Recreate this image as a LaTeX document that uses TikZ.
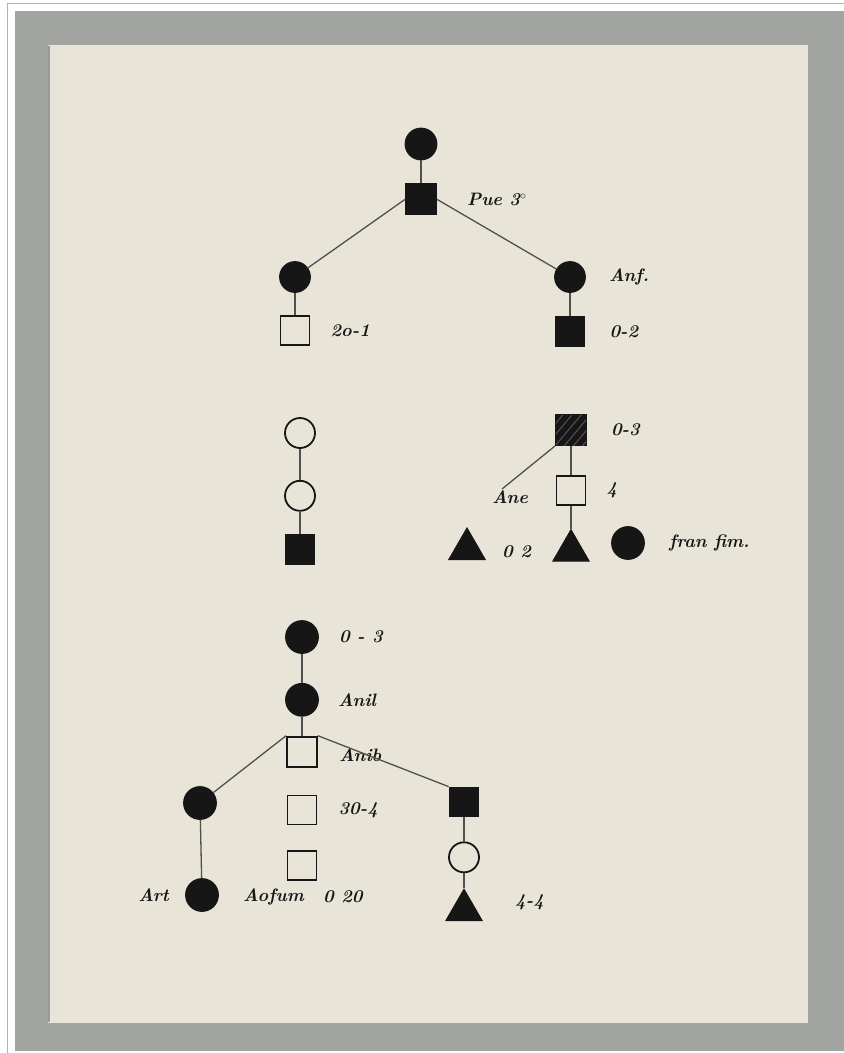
\documentclass[tikz,border=0pt]{standalone}
\usetikzlibrary{positioning,shapes.geometric,patterns.meta}
\definecolor{paper}{RGB}{232,228,215}
\definecolor{mat}{RGB}{162,164,161}
\definecolor{ink}{RGB}{22,22,22}
\definecolor{rule}{RGB}{80,80,78}
\tikzset{
  circ/.style={circle, draw=ink, line width=1.8pt, minimum size=30pt, inner sep=0pt},
  dot/.style={circ, fill=ink},
  box/.style={rectangle, draw=ink, line width=1.8pt, minimum size=29pt, inner sep=0pt},
  sqfill/.style={box, fill=ink},
  tri/.style={regular polygon, regular polygon sides=3, fill=ink, draw=ink, line width=1pt, minimum size=42pt, inner sep=0pt},
  lbl/.style={font=\fontsize{18}{22}\selectfont\bfseries\itshape, text=ink, inner sep=0pt},
  link/.style={draw=rule, line width=1.3pt}
}
\begin{document}
\begin{tikzpicture}[x=1pt, y=-1pt]
        \useasboundingbox (0,0) rectangle (844,1053);
        % mount and sheet
        \fill[white] (0,0) rectangle (844,1053);
        \draw[gray!60, line width=1pt] (7.5,1053) |- (844,3.5);
        \fill[mat] (15,11) rectangle (844,1051);
        \fill[paper] (48,45) rectangle (808,1023);
        \draw[black!40, line width=2pt] (49,1022) -- (49,46);

        % top tree
        \node[dot, minimum size=31pt] (ttop) at (421,144) {}; \node[sqfill,
        minimum size=30pt, below=23pt of ttop] (tsq) {}; \node[lbl, right=30pt
        of tsq] (tsqlbl) {Pue 3$^{\circ}$};
        \node[dot] (tleftc) at (295,277) {}; \node[box, below=22pt of tleftc]
        (tlefts) {}; \node[lbl, right=20pt of tlefts] (tleftlbl) {2o-1};
        \node[dot] (trightc) at (570,277) {}; \node[sqfill, below=23pt of
        trightc] (trights) {}; \node[lbl, right=23pt of trightc] (trightclbl)
        {Anf.}; \node[lbl, right=24pt of trights] (trightslbl) {0-2};
        \draw[link] (ttop) -- (tsq); \draw[link] (tsq.west) -- (tleftc);
        \draw[link] (tsq.east) -- (trightc); \draw[link] (tleftc) -- (tlefts);
        \draw[link] (trightc) -- (trights);

        % middle rows
        \node[circ] (mopena) at (300,433) {}; \node[circ, below=31pt of
        mopena] (mopenb) {}; \node[sqfill, below=22pt of mopenb] (mfill) {};
        \draw[link] (mopena) -- (mopenb) -- (mfill);
        \node[box, fill=ink, minimum size=30pt, postaction={pattern={Lines[angle=50,
        distance=7pt, line width=1.1pt]}, pattern color=gray!55!ink}] (mhatch) at
        (571,430) {}; \node[lbl, right=24pt of mhatch] (mhatchlbl) {0-3};
        \node[box, below=29pt of mhatch] (mbox) {}; \node[lbl, right=20pt of
        mbox] (mboxlbl) {4}; \node[tri, below=23pt of mbox] (mtri) {};
        \draw[link] (mhatch) -- (mbox) -- (mtri);
        \node[lbl] (ane) at (510,497) {Ane}; \coordinate (aneend) at (502,489);
        \draw[link] (mhatch.south west) -- (aneend);
        \node[tri] (mtrib) at (467,549) {}; \node[lbl, anchor=west] (mtriblbl)
        at (502,552) {0 2};
        \node[dot, minimum size=32pt] (mdot) at (628,543) {}; \node[lbl,
        right=24pt of mdot] (mdotlbl) {fran fim.};

        % bottom tree
        \node[dot, minimum size=32pt] (bca) at (302,637) {}; \node[lbl,
        right=20pt of bca] (bcalbl) {0 - 3};
        \node[dot, minimum size=32pt, below=29pt of bca] (bcb) {}; \node[lbl,
        right=19pt of bcb] (bcblbl) {Anil};
        \node[box, minimum size=30pt, below=19pt of bcb] (bsqa) {}; \node[lbl,
        right=21pt of bsqa, yshift=-4pt] (bsqalbl) {Anib};
        \node[box, below=27pt of bsqa] (bsqb) {}; \node[lbl, right=21pt of
        bsqb] (bsqblbl) {30-4};
        \node[box, below=25pt of bsqb] (bsqc) {};
        \draw[link] (bca) -- (bcb) -- (bsqa);
        \node[dot, minimum size=32pt] (blefta) at (200,803) {}; \node[dot,
        minimum size=32pt] (bleftb) at (202,895) {}; \node[lbl, left=16pt of
        bleftb] (bleftblbl) {Art}; \node[lbl, anchor=west] (bleftbname) at
        (243,897) {Aofum}; \node[lbl, anchor=west] (bleftbnum) at (323,897)
        {0 20};
        \draw[link] (bsqa.north west) -- (blefta); \draw[link] (blefta) --
        (bleftb);
        \node[sqfill] (brights) at (464,802) {}; \node[circ, below=24pt of
        brights] (brightc) {}; \node[tri, below=15pt of brightc] (brighttri)
        {}; \node[lbl, anchor=west] (brighttrilbl) at (515,902) {4-4};
        \draw[link] (bsqa.north east) -- (brights.north west); \draw[link]
        (brights) -- (brightc) -- (brighttri);
      \end{tikzpicture}
\end{document}
